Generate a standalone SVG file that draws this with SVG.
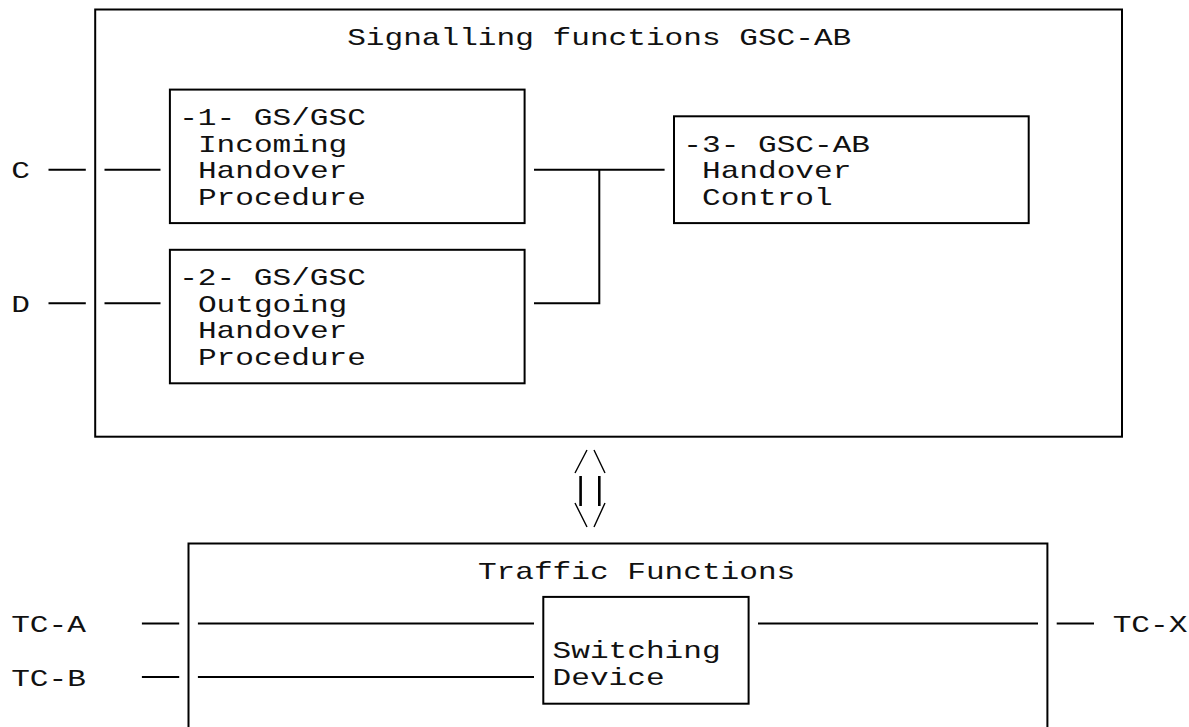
<svg xmlns="http://www.w3.org/2000/svg" width="1189" height="727" viewBox="0 0 1189 727">
<style>
.bx{fill:none;stroke:#000;stroke-width:2}
.ln{fill:none;stroke:#000;stroke-width:2}
.sl{fill:none;stroke:#000;stroke-width:1.4}
.bar{fill:none;stroke:#000;stroke-width:2.6}
text{font-family:"Liberation Mono","DejaVu Sans Mono",monospace;font-size:24px;fill:#111}
</style>
<rect width="1189" height="727" fill="#fff"/>
<g id="signalling-functions">
<rect class="bx" x="95.2" y="9.5" width="1026.8" height="427.2"/>
<text x="347.2" y="44.7" textLength="504.1" lengthAdjust="spacingAndGlyphs">Signalling functions GSC-AB</text>
</g>
<g id="incoming-handover">
<rect class="bx" x="169.9" y="89.6" width="354.7" height="133.5"/>
<text x="179.2" y="124.8" textLength="186.7" lengthAdjust="spacingAndGlyphs">-1- GS/GSC</text>
<text x="197.9" y="151.5" textLength="149.4" lengthAdjust="spacingAndGlyphs">Incoming</text>
<text x="197.9" y="178.2" textLength="149.4" lengthAdjust="spacingAndGlyphs">Handover</text>
<text x="197.9" y="204.9" textLength="168" lengthAdjust="spacingAndGlyphs">Procedure</text>
</g>
<g id="outgoing-handover">
<rect class="bx" x="169.9" y="249.8" width="354.7" height="133.5"/>
<text x="179.2" y="285" textLength="186.7" lengthAdjust="spacingAndGlyphs">-2- GS/GSC</text>
<text x="197.9" y="311.7" textLength="149.4" lengthAdjust="spacingAndGlyphs">Outgoing</text>
<text x="197.9" y="338.4" textLength="149.4" lengthAdjust="spacingAndGlyphs">Handover</text>
<text x="197.9" y="365.1" textLength="168" lengthAdjust="spacingAndGlyphs">Procedure</text>
</g>
<g id="handover-control">
<rect class="bx" x="674" y="116.3" width="354.7" height="106.8"/>
<text x="683.3" y="151.5" textLength="186.7" lengthAdjust="spacingAndGlyphs">-3- GSC-AB</text>
<text x="702" y="178.2" textLength="149.4" lengthAdjust="spacingAndGlyphs">Handover</text>
<text x="702" y="204.9" textLength="130.7" lengthAdjust="spacingAndGlyphs">Control</text>
</g>
<g id="traffic-functions">
<path class="bx" d="M188.5,727 V543.5 H1047.4 V727"/>
<text x="477.9" y="578.7" textLength="317.4" lengthAdjust="spacingAndGlyphs">Traffic Functions</text>
</g>
<g id="switching-device">
<rect class="bx" x="543.3" y="596.9" width="205.3" height="106.8"/>
<text x="552.6" y="657.8" textLength="168" lengthAdjust="spacingAndGlyphs">Switching</text>
<text x="552.6" y="684.5" textLength="112" lengthAdjust="spacingAndGlyphs">Device</text>
</g>
<g id="labels">
<text x="11.2" y="178.2" textLength="18.7" lengthAdjust="spacingAndGlyphs">C</text>
<text x="11.2" y="311.7" textLength="18.7" lengthAdjust="spacingAndGlyphs">D</text>
<text x="11.2" y="632.1" textLength="74.7" lengthAdjust="spacingAndGlyphs">TC-A</text>
<text x="11.2" y="685.5" textLength="74.7" lengthAdjust="spacingAndGlyphs">TC-B</text>
<text x="1112.7" y="632.1" textLength="74.7" lengthAdjust="spacingAndGlyphs">TC-X</text>
</g>
<g id="connectors">
<path class="ln" d="M48.5,169.7 H85.8 M104.5,169.7 H160.5"/>
<path class="ln" d="M48.5,303.2 H85.8 M104.5,303.2 H160.5"/>
<path class="ln" d="M534,169.7 H664.6"/>
<path class="ln" d="M534,303.2 H599.3 V169.7"/>
<path class="ln" d="M141.9,623.6 H179.2 M197.9,623.6 H534"/>
<path class="ln" d="M141.9,677 H179.2 M197.9,677 H534"/>
<path class="ln" d="M758,623.6 H1038 M1056.7,623.6 H1094"/>
<g id="interaction-arrow">
<path class="sl" d="M575,473 L587,450 M594,450 L605,473 M575,503 L587,527 M605,503 L594,527"/>
<path class="bar" d="M580.6,476 V506 M599.3,476 V506"/>
</g>
</g>
</svg>
